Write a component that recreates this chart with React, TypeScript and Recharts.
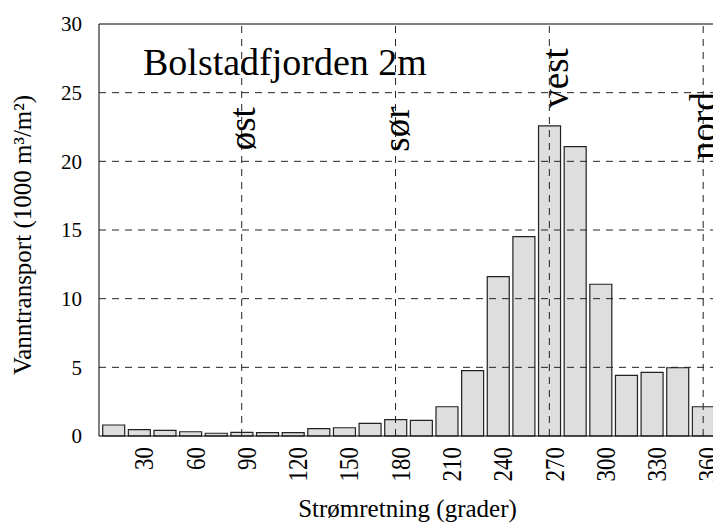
import React from "react";
import { BarChart, Bar, XAxis, YAxis, ReferenceLine, ReferenceDot } from "recharts";

const directions = [15, 30, 45, 60, 75, 90, 105, 120, 135, 150, 165, 180, 195, 210, 225, 240, 255, 270, 285, 300, 315, 330, 345, 360];
const transport = [0.8, 0.46, 0.41, 0.31, 0.2, 0.27, 0.24, 0.25, 0.53, 0.6, 0.92, 1.19, 1.14, 2.13, 4.76, 11.6, 14.52, 22.58, 21.07, 11.05, 4.42, 4.64, 4.97, 2.13];

const xTicks = [30, 60, 90, 120, 150, 180, 210, 240, 270, 300, 330, 360];
const yTicks = [0, 5, 10, 15, 20, 25, 30];
const gridX = [90, 180, 270, 360];
const gridY = [5, 10, 15, 20, 25];

const compassNames = ["øst", "sør", "vest", "nord"];
const compassX = [97.8, 187.9, 280.8, 367.5];
const compassY = [20.8, 20.7, 23.9, 20.1];

const data = directions.map((deg, i) => ({ deg, value: transport[i] }));

const FONT = "'Liberation Serif', 'Times New Roman', serif";
const DASH = "7 6";

const XTick = ({ x, y, payload }: any) => (
  <g transform={`translate(${x},${y})`}>
    <text
      transform="rotate(-90) scale(1,1.22)"
      textAnchor="end"
      dominantBaseline="central"
      dy={4}
      fontSize={23}
      fontFamily={FONT}
      fill="#000"
    >
      {payload.value}
    </text>
  </g>
);

const CompassLabel = (name: string) => (p: any) => (
  <text
    x={p.cx}
    y={p.cy}
    transform={`rotate(-90 ${p.cx} ${p.cy})`}
    textAnchor="start"
    fontSize={37}
    fontFamily={FONT}
    fill="#000"
  >
    {name}
  </text>
);

export default function App() {
  return (
    <div style={{ position: "absolute", left: 0, top: 0, width: 713, height: 523, overflow: "hidden", background: "#fff" }}>
      <BarChart width={726} height={523} data={data} margin={{ top: 24, right: 10, left: 0, bottom: 0 }}>
        <XAxis
          type="number"
          dataKey="deg"
          domain={[6.5, 367.5]}
          allowDataOverflow
          ticks={xTicks}
          interval={0}
          height={87}
          tickLine={false}
          tickSize={0}
          tickMargin={11}
          axisLine={{ stroke: "#000", strokeWidth: 1 }}
          tick={<XTick />}
          label={{
            content: (p: any) => {
              const vb = p.viewBox;
              return (
                <text x={vb.x + vb.width / 2} y={vb.y + 81} textAnchor="middle" fontSize={25} fontFamily={FONT} fill="#000">
                  Strømretning (grader)
                </text>
              );
            },
          }}
        />
        <YAxis
          domain={[0, 30]}
          ticks={yTicks}
          width={99}
          tickLine={false}
          tickSize={0}
          tickMargin={17}
          axisLine={{ stroke: "#000", strokeWidth: 1 }}
          tick={{ fontSize: 21, fontFamily: FONT, fill: "#000" }}
          label={{
            content: (p: any) => {
              const vb = p.viewBox;
              const cx = vb.x + 31;
              const cy = vb.y + vb.height / 2 + 5;
              return (
                <text x={cx} y={cy} transform={`rotate(-90 ${cx} ${cy})`} textAnchor="middle" fontSize={25} fontFamily={FONT} fill="#000">
                  Vanntransport (1000 m³/m²)
                </text>
              );
            },
          }}
        />
        <Bar dataKey="value" barSize={22} fill="#dedede" stroke="#222" strokeWidth={1.2} isAnimationActive={false} />
        {gridY.map((v) => (
          <ReferenceLine key={`gy${v}`} y={v} stroke="#222" strokeDasharray={DASH} strokeWidth={1} />
        ))}
        {gridX.map((v) => (
          <ReferenceLine key={`gx${v}`} x={v} stroke="#222" strokeDasharray={DASH} strokeWidth={1} ifOverflow="visible" />
        ))}
        <ReferenceLine y={30} stroke="#000" strokeWidth={1} />
        {compassNames.map((name, i) => (
          <ReferenceDot key={name} x={compassX[i]} y={compassY[i]} r={1} ifOverflow="visible" shape={CompassLabel(name)} />
        ))}
        <text x={143} y={75} fontSize={38} fontFamily={FONT} fill="#000">
          Bolstadfjorden 2m
        </text>
      </BarChart>
    </div>
  );
}
